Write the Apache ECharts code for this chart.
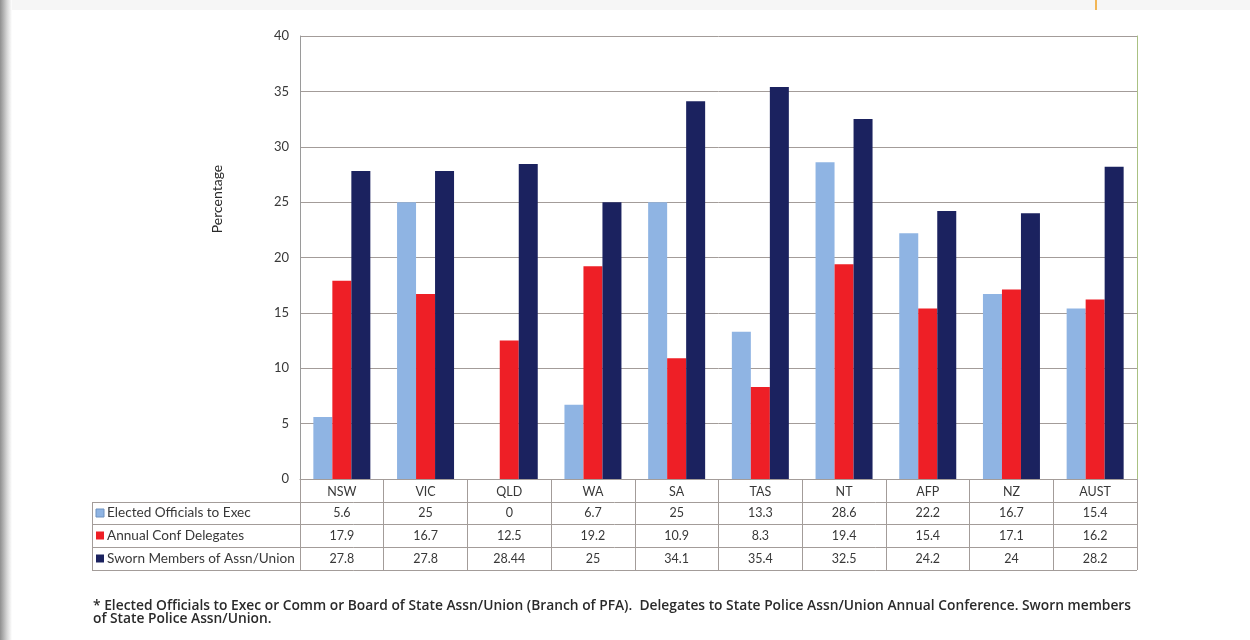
<!DOCTYPE html>
<html><head><meta charset="utf-8">
<script src="https://cdn.jsdelivr.net/npm/echarts@6/dist/echarts.min.js"></script>
<style>html,body{margin:0;padding:0;background:#fff}#c{width:1250px;height:640px}</style>
</head><body><div id="c"></div>
<script>
const categories = ['NSW','VIC','QLD','WA','SA','TAS','NT','AFP','NZ','AUST'];
const electedOfficials = [5.6, 25, 0, 6.7, 25, 13.3, 28.6, 22.2, 16.7, 15.4];
const annualConfDelegates = [17.9, 16.7, 12.5, 19.2, 10.9, 8.3, 19.4, 15.4, 17.1, 16.2];
const swornMembers = [27.8, 27.8, 28.44, 25, 34.1, 35.4, 32.5, 24.2, 24, 28.2];
const seriesNames = ['Elected Officials to Exec', 'Annual Conf Delegates', 'Sworn Members of Assn/Union'];
const yMin = 0, yMax = 40, yStep = 5;
const yAxisTitle = 'Percentage';
const footnoteLines = [
  '* Elected Officials to Exec or Comm or Board of State Assn/Union (Branch of PFA).  Delegates to State Police Assn/Union Annual Conference. Sworn members',
  'of State Police Assn/Union.'
];

const colors = ['#8fb4e3', '#ee1f26', '#1b225f'];
const FONT = 'Lato, "Open Sans", sans-serif';
const G = {left: 300, right: 1137, top: 36, bottom: 479};
const rowY = [479, 502, 524, 547, 570];
const tableLeft = 92;
const lineCol = '#a39c99';

const chart = echarts.init(document.getElementById('c'), null, {renderer: 'canvas'});
const seriesData = [electedOfficials, annualConfDelegates, swornMembers];

const option = {
  animation: false,
  backgroundColor: '#ffffff',
  grid: {left: G.left, right: 1250 - G.right, top: G.top, bottom: 640 - G.bottom, containLabel: false},
  xAxis: {
    type: 'category', data: categories,
    axisLine: {show: true, lineStyle: {color: lineCol, width: 1}},
    axisTick: {show: true, length: rowY[4] - rowY[0], lineStyle: {color: lineCol}},
    axisLabel: {margin: 6, fontFamily: FONT, fontSize: 12.5, color: '#383838'}
  },
  yAxis: [{
    type: 'value', min: yMin, max: yMax, interval: yStep,
    axisLine: {show: true, lineStyle: {color: '#9a9a9a'}},
    axisTick: {show: false},
    axisLabel: {margin: 11, fontFamily: FONT, fontSize: 13, color: '#383838'},
    splitLine: {lineStyle: {color: lineCol, width: 1}}
  }, {
    type: 'value', min: yMin, max: yMax, interval: yStep, position: 'right',
    axisLine: {show: true, lineStyle: {color: '#aac183'}},
    axisTick: {show: false}, axisLabel: {show: false}, splitLine: {show: false}
  }],
  series: seriesNames.map((n, i) => ({
    name: n, type: 'bar', data: seriesData[i], barWidth: 19, barGap: '0%',
    itemStyle: {color: colors[i]}
  }))
};
chart.setOption(option);

const g = [];
// frame shading
g.push({type: 'rect', shape: {x: 0, y: 0, width: 1250, height: 10}, style: {fill: '#f6f6f6'}, z: 0});
g.push({type: 'rect', shape: {x: 0, y: 0, width: 12, height: 640},
  style: {fill: new echarts.graphic.LinearGradient(0, 0, 1, 0, [{offset: 0, color: '#8f8f8f'}, {offset: 0.6, color: '#d8d8d8'}, {offset: 1, color: '#ffffff'}])}, z: 0});
g.push({type: 'line', shape: {x1: 1096, y1: 0, x2: 1096, y2: 10}, style: {stroke: '#f0a020', lineWidth: 1.5}});

// table lines
for (let r = 1; r < rowY.length; r++) {
  g.push({type: 'line', shape: {x1: tableLeft, y1: rowY[r] + 0.5, x2: G.right, y2: rowY[r] + 0.5}, style: {stroke: lineCol, lineWidth: 1}});
}
g.push({type: 'line', shape: {x1: tableLeft + 0.5, y1: rowY[1], x2: tableLeft + 0.5, y2: rowY[4]}, style: {stroke: lineCol, lineWidth: 1}});

// row labels with legend keys and values
seriesNames.forEach((n, r) => {
  const cy = (rowY[r + 1] + rowY[r + 2]) / 2;
  g.push({type: 'rect', shape: {x: 96, y: cy - 4, width: 8, height: 8}, style: {fill: colors[r], stroke: r === 0 ? '#6f92c0' : null}});
  g.push({type: 'text', x: 107, y: cy, style: {text: n, font: '13.6px ' + FONT, fill: '#383838', textVerticalAlign: 'middle', textAlign: 'left'}});
  seriesData[r].forEach((v, i) => {
    const cx = chart.convertToPixel({xAxisIndex: 0}, categories[i]);
    g.push({type: 'text', x: cx, y: cy, style: {text: String(v), font: '12.5px ' + FONT, fill: '#383838', textVerticalAlign: 'middle', textAlign: 'center'}});
  });
});

// y axis title
g.push({type: 'text', x: 217, y: 199, rotation: Math.PI / 2,
  style: {text: yAxisTitle, font: '14px ' + FONT, fill: '#2a2a2a', textAlign: 'center', textVerticalAlign: 'middle'}});

// footnote
footnoteLines.forEach((t, k) => {
  g.push({type: 'text', x: 93, y: 606 + k * 13, scaleX: 1.022,
    style: {text: t, font: '600 13.5px "Open Sans", sans-serif', fill: '#2a2a2a', textAlign: 'left', textVerticalAlign: 'middle'}});
});

chart.setOption({graphic: {elements: g}});
</script>
</body></html>
